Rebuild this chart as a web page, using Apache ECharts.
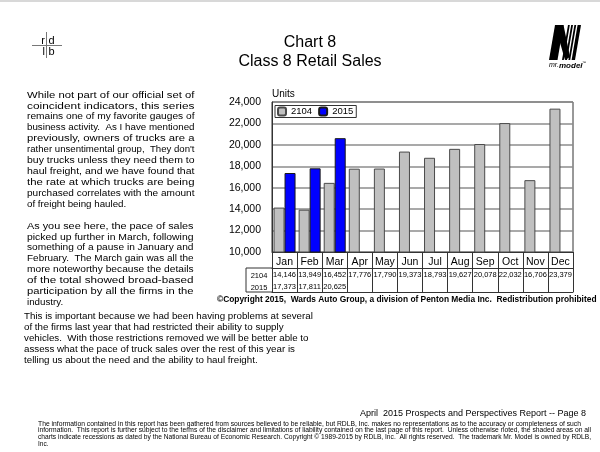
<!DOCTYPE html>
<html><head><meta charset="utf-8">
<script src="https://cdn.jsdelivr.net/npm/echarts@6/dist/echarts.min.js"></script>
<style>html,body{margin:0;padding:0;background:#fff}#c{width:600px;height:452px}</style>
</head><body><div id="c"></div>
<script>
const months = ['Jan','Feb','Mar','Apr','May','Jun','Jul','Aug','Sep','Oct','Nov','Dec'];
const seriesNames = ['2104','2015'];
const sales2104 = [14146,13949,16452,17776,17790,19373,18793,19627,20078,22032,16706,23379];
const sales2015 = [17373,17811,20625];
const yMin = 10000, yMax = 24000, yInterval = 2000;

const titleLines = ['Chart 8','Class 8 Retail Sales'];
const para1 = [
 'While not part of our official set of',
 'coincident indicators, this series',
 'remains one of my favorite gauges of',
 'business activity.  As I have mentioned',
 'previously, owners of trucks are a',
 "rather unsentimental group,  They don't",
 'buy trucks unless they need them to',
 'haul freight, and we have found that',
 'the rate at which trucks are being',
 'purchased correlates with the amount',
 'of freight being hauled.'];
const para2 = [
 'As you see here, the pace of sales',
 'picked up further in March, following',
 'something of a pause in January and',
 'February.  The March gain was all the',
 'more noteworthy because the details',
 'of the total showed broad-based',
 'participation by all the firms in the',
 'industry.'];
const para3 = [
 'This is important because we had been having problems at several',
 'of the firms last year that had restricted their ability to supply',
 'vehicles.  With those restrictions removed we will be better able to',
 'assess what the pace of truck sales over the rest of this year is',
 'telling us about the need and the ability to haul freight.'];
const copyrightText = '\u00A9Copyright 2015,  Wards Auto Group, a division of Penton Media Inc.  Redistribution prohibited';
const pageText = 'April  2015 Prospects and Perspectives Report -- Page 8';
const disclaimer = [
 'The information contained in this report has been gathered from sources believed to be reliable, but RDLB, Inc. makes no representations as to the accuracy or completeness of such',
 'information.  This report is further subject to the terms of the disclaimer and limitations of liability contained on the last page of this report.  Unless otherwise noted, the shaded areas on all',
 'charts indicate recessions as dated by the National Bureau of Economic Research. Copyright \u00A9 1989-2015 by RDLB, Inc.  All rights reserved.  The trademark Mr. Model is owned by RDLB,',
 'Inc.'];

const FF = '"Liberation Sans", Arial, sans-serif';
const fmt = v => (v == null ? '' : v.toLocaleString('en-US'));
const LINE = '#333';

const chart = echarts.init(document.getElementById('c'), null, {renderer: 'canvas'});

function txt(text, x, y, size, opts) {
  return Object.assign({type: 'text', silent: true, z: 10,
    style: Object.assign({text: text, x: x, y: y, fontSize: size, fontFamily: FF, fill: '#000',
      textAlign: 'left', textVerticalAlign: 'middle'}, (opts || {}))});
}
function line(x1, y1, x2, y2, color, w) {
  return {type: 'line', silent: true, z: 10, shape: {x1: x1, y1: y1, x2: x2, y2: y2},
    style: {stroke: color || LINE, lineWidth: w || 1}};
}

// a line of text stretched horizontally to fill a given width (justified look)
const measureCtx = document.createElement('canvas').getContext('2d');
function fitLine(text, x, y, size, width) {
  measureCtx.font = size + 'px "Liberation Sans"';
  const w = measureCtx.measureText(text).width;
  const el = txt(text, 0, 0, size);
  el.x = x; el.y = y; el.scaleX = width / w; el.originX = 0; el.originY = 0;
  return el;
}
function justified(lines, x, yFirst, width, size, lh) {
  return lines.map((ln, li) => li === lines.length - 1
    ? txt(ln, x, yFirst + li * lh, size)
    : fitLine(ln, x, yFirst + li * lh, size, width));
}

const graphics = [
  {type: 'rect', silent: true, shape: {x: 0, y: 0, width: 600, height: 2}, style: {fill: '#d8d8d8'}},
  // rdlb logo
  line(46.5, 32, 46.5, 58, '#777', 1), line(32, 45.5, 62, 45.5, '#777', 1),
  txt('r', 45, 40.5, 11, {textAlign: 'right', fontFamily: '"Liberation Sans Narrow", ' + FF}),
  txt('d', 48.5, 40.5, 11, {fontFamily: '"Liberation Sans Narrow", ' + FF}),
  txt('l', 45, 52, 11, {textAlign: 'right', fontFamily: '"Liberation Sans Narrow", ' + FF}),
  txt('b', 48.5, 52, 11, {fontFamily: '"Liberation Sans Narrow", ' + FF}),
  // title
  txt(titleLines[0], 310, 43, 16, {textAlign: 'center'}),
  txt(titleLines[1], 310, 62, 16, {textAlign: 'center'}),
  // Mr. Model logo
  {type: 'polygon', silent: true, shape: {points: [[549,60],[555,25],[563.5,25],[557.5,60]]}, style: {fill: '#000'}},
  {type: 'polygon', silent: true, shape: {points: [[555,25],[563.5,25],[570,57],[565,60]]}, style: {fill: '#000'}},
  {type: 'polygon', silent: true, shape: {points: [[568,25],[569.8,25],[563.8,60],[562,60]]}, style: {fill: '#000'}},
  {type: 'polygon', silent: true, shape: {points: [[571.2,25],[573,25],[567,60],[565.2,60]]}, style: {fill: '#000'}},
  {type: 'polygon', silent: true, shape: {points: [[574.4,25],[576.2,25],[570.2,60],[568.4,60]]}, style: {fill: '#000'}},
  {type: 'polygon', silent: true, shape: {points: [[577.6,25],[581,25],[575,60],[571.6,60]]}, style: {fill: '#000'}},
  txt('mr.', 549, 65.5, 7, {fontStyle: 'italic'}),
  txt('model', 559, 65.5, 8, {fontStyle: 'italic', fontWeight: 'bold'}),
  txt('\u2122', 582, 62.5, 4),
  // paragraphs
  ...justified(para1, 27, 95, 167.5, 9.75, 10.9),
  ...justified(para2, 27, 226, 166.5, 9.75, 10.9),
  txt(para3.join('\n'), 24, 311.2, 9.75, {textVerticalAlign: 'top', lineHeight: 10.9}),
  // chart extras
  txt('Units', 272, 94.5, 10),
  txt(seriesNames[0], 259, 275.5, 7.5, {textAlign: 'center'}),
  txt(seriesNames[1], 259, 287.5, 7.5, {textAlign: 'center'}),
  line(246, 268, 272, 268), line(246, 268, 246, 292), line(246, 292, 272, 292),
  txt(copyrightText, 217, 300, 8.4, {fontWeight: 'bold'}),
  // footer
  txt(pageText, 360, 414, 9),
  fitLine(disclaimer[0], 38, 424, 6.5, 543),
  fitLine(disclaimer[1], 38, 430.7, 6.5, 553),
  fitLine(disclaimer[2], 38, 437.4, 6.5, 553),
  txt(disclaimer[3], 38, 444.1, 6.5)
];

const tableAxis = (offset, values, showLine) => ({
  type: 'category', data: months, position: 'bottom', offset: offset,
  boundaryGap: true,
  axisLine: {show: showLine, lineStyle: {color: LINE, width: 1}},
  axisTick: {show: true, length: 12, lineStyle: {color: LINE, width: 1}},
  axisLabel: {show: true, interval: 0, margin: 3, fontSize: 7.5, fontFamily: FF, color: '#000',
    formatter: (v, i) => fmt(values[i])},
  splitLine: {show: false}
});

chart.setOption({
  animation: false,
  backgroundColor: '#fff',
  textStyle: {fontFamily: FF},
  grid: {left: 272, right: 27, top: 102, height: 150, show: true, borderColor: LINE, borderWidth: 1,
    backgroundColor: 'transparent', containLabel: false},
  legend: {
    left: 275, top: 105.5, orient: 'horizontal', data: seriesNames,
    borderColor: LINE, borderWidth: 1, padding: [1, 3, 1, 2],
    itemWidth: 8, itemHeight: 8, itemGap: 6,
    textStyle: {fontSize: 9.5, fontFamily: FF, color: '#000'},
    selectedMode: false
  },
  xAxis: [
    {type: 'category', data: months, position: 'bottom', boundaryGap: true,
     axisLine: {show: true, lineStyle: {color: LINE, width: 1}},
     axisTick: {show: true, length: 16, lineStyle: {color: LINE, width: 1}},
     axisLabel: {interval: 0, margin: 5, fontSize: 10.5, fontFamily: FF, color: '#000'}},
    tableAxis(16, sales2104, true),
    tableAxis(28, sales2015, false),
    {type: 'category', data: months, position: 'bottom', offset: 40,
     axisLine: {show: true, lineStyle: {color: LINE, width: 1}},
     axisTick: {show: false}, axisLabel: {show: false}}
  ],
  yAxis: {
    type: 'value', min: yMin, max: yMax, interval: yInterval,
    axisLine: {show: true, lineStyle: {color: LINE, width: 1}},
    axisTick: {show: false},
    axisLabel: {fontSize: 10.5, fontFamily: FF, color: '#000', margin: 11, formatter: v => fmt(v)},
    splitLine: {show: true, lineStyle: {color: '#8c8c8c', width: 1.5}}
  },
  series: [
    {name: seriesNames[0], type: 'bar', xAxisIndex: 0, data: sales2104, barWidth: 11, barGap: '0%',
     itemStyle: {color: '#c0c0c0', borderColor: '#4a4a4a', borderWidth: 1}},
    {name: seriesNames[1], type: 'bar', xAxisIndex: 0, data: sales2015, barWidth: 11, barGap: '0%',
     itemStyle: {color: '#0000ff', borderColor: '#1a1a1a', borderWidth: 1}}
  ],
  graphic: graphics
});
</script>
</body></html>
